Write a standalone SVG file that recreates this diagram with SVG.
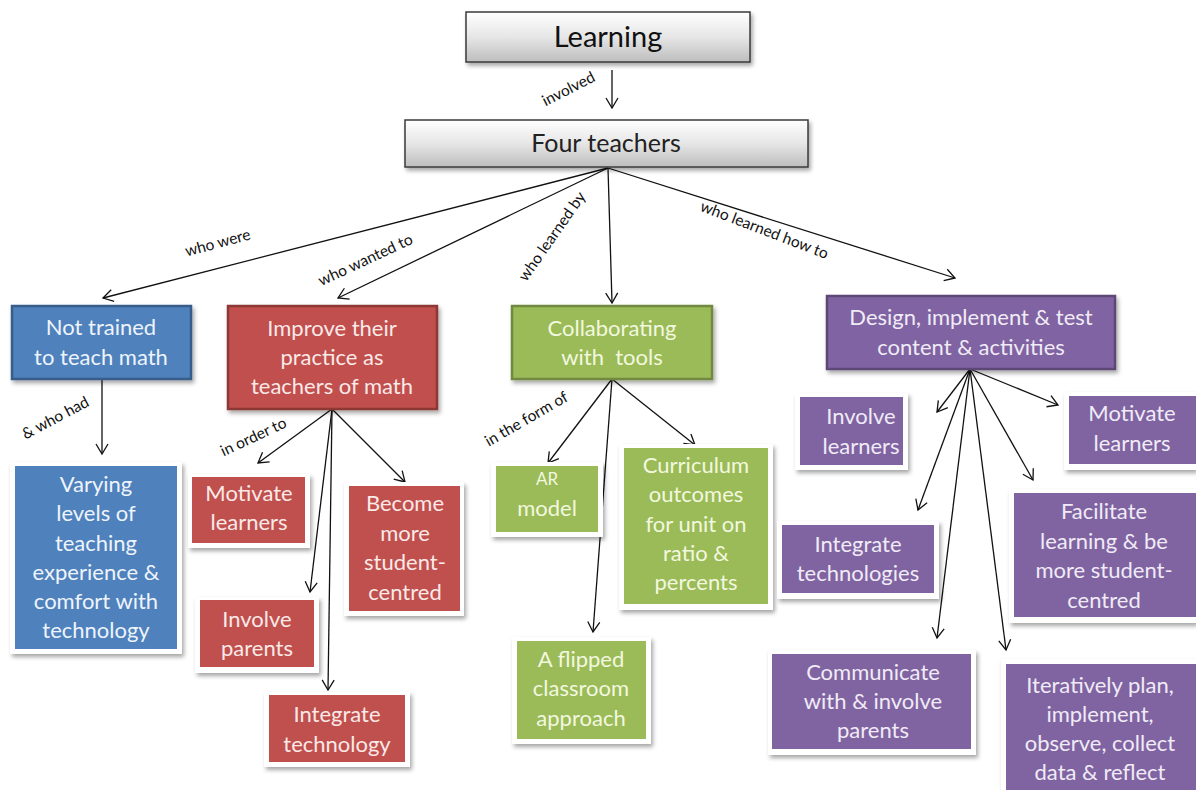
<svg xmlns="http://www.w3.org/2000/svg" width="1196" height="790" viewBox="0 0 1196 790">
<defs>
<linearGradient id="gray" x1="0" y1="0" x2="0" y2="1">
<stop offset="0" stop-color="#ffffff"/>
<stop offset="0.5" stop-color="#e6e6e6"/>
<stop offset="1" stop-color="#bdbdbd"/>
</linearGradient>
<filter id="sh" x="-10%" y="-10%" width="125%" height="130%">
<feDropShadow dx="2" dy="3" stdDeviation="2" flood-color="#000" flood-opacity="0.35"/>
</filter>
<marker id="arr" markerWidth="14" markerHeight="14" refX="12" refY="7" orient="auto" markerUnits="userSpaceOnUse">
<polyline points="2,1 12,7 2,13" fill="none" stroke="#111" stroke-width="1.3"/>
</marker>
<style>
.g{fill:url(#gray);stroke:#3a3a3a;stroke-width:1.5;filter:url(#sh)}
.t{font-family:Lato,"Open Sans","Liberation Sans",sans-serif;text-anchor:middle}
.top{font-size:29px;fill:#111}
.mid{font-size:25px;fill:#222}
.bx{font-size:22px}
.frame{fill:#fff;filter:url(#sh)}
.blue{fill:#4f81bd}.blueb{stroke:#385d8a;stroke-width:2.5}
.red{fill:#c0504d}.redb{stroke:#8c3836;stroke-width:2.5}
.green{fill:#9bbb59}.greenb{stroke:#71893f;stroke-width:2.5}
.purple{fill:#8064a2}.purpleb{stroke:#5c4776;stroke-width:2.5}
.wb{fill:#eef4fb}.wr{fill:#fbe9e8}.wg{fill:#f2f8df}.wp{fill:#f0ebf6}
.lbl{font-family:Lato,"Open Sans","Liberation Sans",sans-serif;font-size:15.5px;fill:#111;text-anchor:middle}
.c{fill:none;stroke:#111;stroke-width:1.3;marker-end:url(#arr)}
</style>
</defs>
<rect width="1196" height="790" fill="#ffffff"/>

<g id="connectors">
<line class="c" x1="612" y1="70" x2="612" y2="108"/>
<line class="c" x1="608" y1="168" x2="103" y2="298"/>
<line class="c" x1="608" y1="168" x2="338" y2="298"/>
<line class="c" x1="608" y1="168" x2="612" y2="303"/>
<line class="c" x1="608" y1="168" x2="955" y2="278"/>
<line class="c" x1="102" y1="379" x2="102" y2="454"/>
<line class="c" x1="332" y1="409" x2="258" y2="463"/>
<line class="c" x1="332" y1="409" x2="405" y2="482"/>
<line class="c" x1="332" y1="409" x2="310" y2="592"/>
<line class="c" x1="332" y1="409" x2="328" y2="690"/>
<line class="c" x1="612" y1="379" x2="548" y2="463"/>
<line class="c" x1="612" y1="379" x2="695" y2="445"/>
<line class="c" x1="612" y1="379" x2="593" y2="632"/>
<line class="c" x1="970" y1="369" x2="937" y2="412"/>
<line class="c" x1="970" y1="369" x2="1058" y2="405"/>
<line class="c" x1="970" y1="369" x2="918" y2="510"/>
<line class="c" x1="970" y1="369" x2="1033" y2="480"/>
<line class="c" x1="970" y1="369" x2="937" y2="638"/>
<line class="c" x1="970" y1="369" x2="1006" y2="650"/>
<text class="lbl" transform="rotate(-27 569 90)" x="569" y="94">involved</text>
<text class="lbl" transform="rotate(-15 218 244)" x="218" y="248">who were</text>
<text class="lbl" transform="rotate(-25 366 261)" x="366" y="265">who wanted to</text>
<text class="lbl" transform="rotate(-55 553 237)" x="553" y="241">who learned by</text>
<text class="lbl" transform="rotate(21 764 231)" x="764" y="235">who learned how to</text>
<text class="lbl" transform="rotate(-28 56 419)" x="56" y="423">&amp; who had</text>
<text class="lbl" transform="rotate(-25 254 438)" x="254" y="442">in order to</text>
<text class="lbl" transform="rotate(-30 527 420)" x="527" y="424">in the form of</text>
</g>

<g id="learning">
<rect class="g" x="466" y="12" width="284" height="50"/>
<text class="t top" x="608" y="47">Learning</text>
</g>
<g id="four-teachers">
<rect class="g" x="405" y="120" width="403" height="47"/>
<text class="t mid" x="606" y="152">Four teachers</text>
</g>

<g id="not-trained">
<rect class="blue blueb" x="12" y="306" width="179" height="73" filter="url(#sh)"/>
<text class="t bx wb" x="101" y="335">Not trained</text>
<text class="t bx wb" x="101" y="365">to teach math</text>
</g>
<g id="improve">
<rect class="red redb" x="228" y="306" width="209" height="103" filter="url(#sh)"/>
<text class="t bx wr" x="332" y="336">Improve their</text>
<text class="t bx wr" x="332" y="365">practice as</text>
<text class="t bx wr" x="332" y="394">teachers of math</text>
</g>
<g id="collaborating">
<rect class="green greenb" x="512" y="306" width="200" height="73" filter="url(#sh)"/>
<text class="t bx wg" x="612" y="336">Collaborating</text>
<text class="t bx wg" x="612" y="365">with&#160; tools</text>
</g>
<g id="design">
<rect class="purple purpleb" x="827" y="296" width="288" height="73" filter="url(#sh)"/>
<text class="t bx wp" x="971" y="325">Design, implement &amp; test</text>
<text class="t bx wp" x="971" y="355">content &amp; activities</text>
</g>

<g id="varying">
<rect class="frame" x="10" y="462" width="172" height="192"/>
<rect class="blue" x="15" y="466" width="162" height="183"/>
<text class="t bx wb" x="96" y="492">Varying</text>
<text class="t bx wb" x="96" y="521">levels of</text>
<text class="t bx wb" x="96" y="551">teaching</text>
<text class="t bx wb" x="96" y="580">experience &amp;</text>
<text class="t bx wb" x="96" y="609">comfort with</text>
<text class="t bx wb" x="96" y="638">technology</text>
</g>

<g id="motivate-red">
<rect class="frame" x="188" y="474" width="122" height="74"/>
<rect class="red" x="192" y="477" width="113" height="66"/>
<text class="t bx wr" x="249" y="501">Motivate</text>
<text class="t bx wr" x="249" y="530">learners</text>
</g>
<g id="become">
<rect class="frame" x="344" y="482" width="120" height="134"/>
<rect class="red" x="349" y="486" width="111" height="125"/>
<text class="t bx wr" x="405" y="511">Become</text>
<text class="t bx wr" x="405" y="541">more</text>
<text class="t bx wr" x="405" y="570">student-</text>
<text class="t bx wr" x="405" y="600">centred</text>
</g>
<g id="involve-parents">
<rect class="frame" x="195" y="597" width="124" height="76"/>
<rect class="red" x="200" y="600" width="114" height="67"/>
<text class="t bx wr" x="257" y="627">Involve</text>
<text class="t bx wr" x="257" y="656">parents</text>
</g>
<g id="integrate-technology">
<rect class="frame" x="264" y="692" width="146" height="75"/>
<rect class="red" x="269" y="695" width="136" height="67"/>
<text class="t bx wr" x="337" y="722">Integrate</text>
<text class="t bx wr" x="337" y="752">technology</text>
</g>

<g id="ar-model">
<rect class="frame" x="491" y="462" width="112" height="75"/>
<rect class="green" x="496" y="466" width="102" height="66"/>
<text class="t wg" x="547" y="485" font-size="17">AR</text>
<text class="t bx wg" x="547" y="516">model</text>
</g>
<g id="curriculum">
<rect class="frame" x="619" y="444" width="154" height="166"/>
<rect class="green" x="624" y="448" width="144" height="156"/>
<text class="t bx wg" x="696" y="473">Curriculum</text>
<text class="t bx wg" x="696" y="502">outcomes</text>
<text class="t bx wg" x="696" y="532">for unit on</text>
<text class="t bx wg" x="696" y="561">ratio &amp;</text>
<text class="t bx wg" x="696" y="590">percents</text>
</g>
<g id="flipped">
<rect class="frame" x="512" y="637" width="139" height="107"/>
<rect class="green" x="517" y="641" width="129" height="98"/>
<text class="t bx wg" x="581" y="667">A flipped</text>
<text class="t bx wg" x="581" y="696">classroom</text>
<text class="t bx wg" x="581" y="726">approach</text>
</g>

<g id="involve-learners">
<rect class="frame" x="795" y="393" width="113" height="77"/>
<rect class="purple" x="800" y="397" width="103" height="68"/>
<text class="t bx wp" x="861" y="424">Involve</text>
<text class="t bx wp" x="861" y="454">learners</text>
</g>
<g id="motivate-purple">
<rect class="frame" x="1064" y="392" width="132" height="78"/>
<rect class="purple" x="1069" y="396" width="127" height="68"/>
<text class="t bx wp" x="1132" y="421">Motivate</text>
<text class="t bx wp" x="1132" y="451">learners</text>
</g>
<g id="integrate-technologies">
<rect class="frame" x="777" y="521" width="162" height="78"/>
<rect class="purple" x="782" y="525" width="152" height="68"/>
<text class="t bx wp" x="858" y="552">Integrate</text>
<text class="t bx wp" x="858" y="581">technologies</text>
</g>
<g id="facilitate">
<rect class="frame" x="1009" y="489" width="187" height="134"/>
<rect class="purple" x="1014" y="493" width="182" height="124"/>
<text class="t bx wp" x="1104" y="519">Facilitate</text>
<text class="t bx wp" x="1104" y="549">learning &amp; be</text>
<text class="t bx wp" x="1104" y="578">more student-</text>
<text class="t bx wp" x="1104" y="608">centred</text>
</g>
<g id="communicate">
<rect class="frame" x="768" y="650" width="208" height="105"/>
<rect class="purple" x="772" y="654" width="199" height="95"/>
<text class="t bx wp" x="873" y="680">Communicate</text>
<text class="t bx wp" x="873" y="709">with &amp; involve</text>
<text class="t bx wp" x="873" y="738">parents</text>
</g>
<g id="iteratively">
<rect class="frame" x="1001" y="659" width="195" height="131"/>
<rect class="purple" x="1006" y="664" width="190" height="126"/>
<text class="t bx wp" x="1100" y="693">Iteratively plan,</text>
<text class="t bx wp" x="1100" y="722">implement,</text>
<text class="t bx wp" x="1100" y="751">observe, collect</text>
<text class="t bx wp" x="1100" y="780">data &amp; reflect</text>
</g>
</svg>
